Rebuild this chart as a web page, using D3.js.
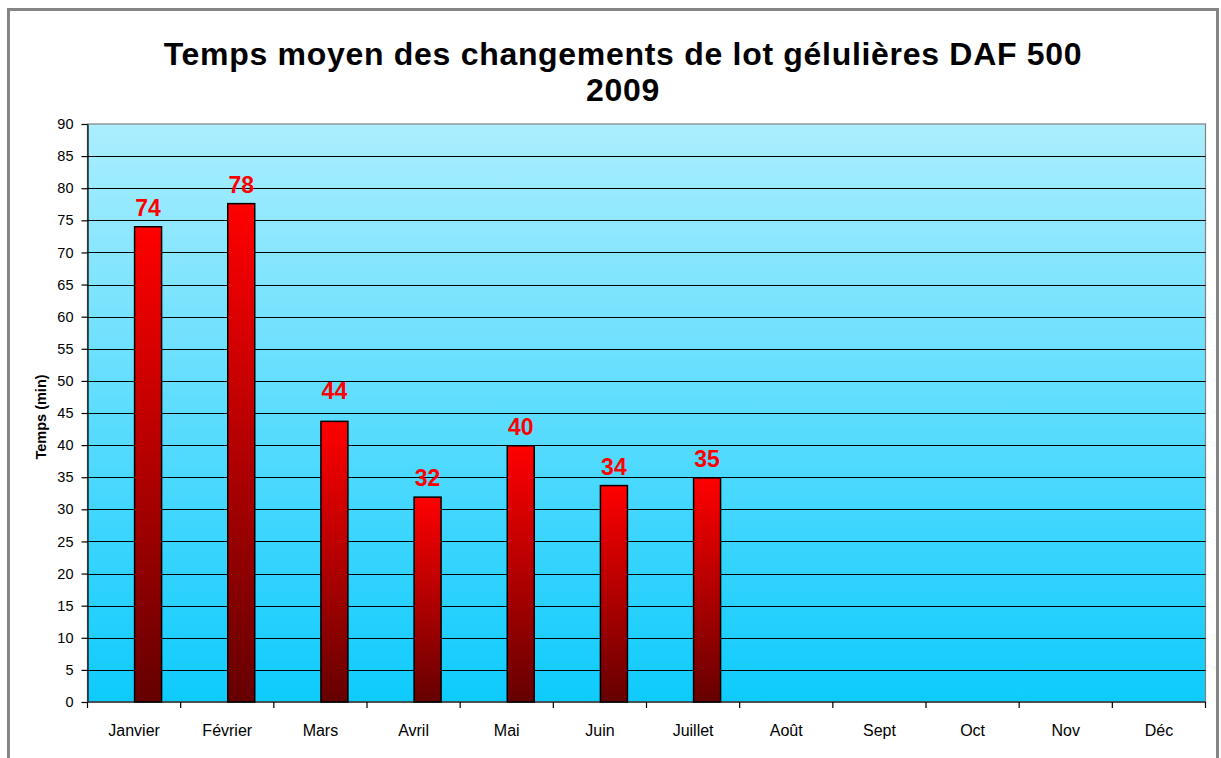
<!DOCTYPE html>
<html>
<head>
<meta charset="utf-8">
<script src="https://cdn.jsdelivr.net/npm/d3@7"></script>
<style>
  html, body { margin: 0; padding: 0; background: #fff; }
  svg { display: block; font-family: Arial, "Liberation Sans", sans-serif; }
</style>
</head>
<body>
<svg id="chart" width="1221" height="758"></svg>
<script>
// Monthly average changeover time (minutes) for the DAF 500 capsule fillers, 2009
const months = ["Janvier", "Février", "Mars", "Avril", "Mai", "Juin", "Juillet", "Août", "Sept", "Oct", "Nov", "Déc"];
const minutes = [74, 77.6, 43.7, 31.9, 39.9, 33.7, 34.9, null, null, null, null, null];
const yTicks = d3.range(0, 91, 5);
const titleLines = ["Temps moyen des changements de lot gélulières DAF 500", "2009"];
const yLabel = "Temps (min)";

const svg = d3.select("#chart");
const plot = { left: 87.5, right: 1205.5, top: 124, bottom: 702 };

// outer frame
svg.append("rect")
  .attr("x", 8.5).attr("y", 9.5)
  .attr("width", 1209).attr("height", 800)
  .attr("fill", "#fff").attr("stroke", "#858585").attr("stroke-width", 3);

const defs = svg.append("defs");
const bg = defs.append("linearGradient").attr("id", "bgGrad")
  .attr("x1", 0).attr("y1", 0).attr("x2", 0).attr("y2", 1);
bg.append("stop").attr("offset", 0).attr("stop-color", "#abeefe");
bg.append("stop").attr("offset", 1).attr("stop-color", "#0ecbfd");

const barGrad = defs.append("linearGradient").attr("id", "barGrad")
  .attr("x1", 0).attr("y1", 0).attr("x2", 0).attr("y2", 1);
barGrad.append("stop").attr("offset", 0).attr("stop-color", "#ff0000");
barGrad.append("stop").attr("offset", 1).attr("stop-color", "#650000");

const x = d3.scaleBand().domain(months).range([plot.left, plot.right]).padding(0);
const y = d3.scaleLinear().domain([0, 90]).range([plot.bottom, plot.top]);

// plot background
svg.append("rect")
  .attr("x", plot.left).attr("y", plot.top)
  .attr("width", plot.right - plot.left).attr("height", plot.bottom - plot.top)
  .attr("fill", "url(#bgGrad)").attr("stroke", "#808080").attr("stroke-width", 1.2);

// horizontal gridlines
svg.append("g").selectAll("line")
  .data(yTicks.filter(d => d > 0 && d < 90))
  .join("line")
  .attr("x1", plot.left).attr("x2", plot.right)
  .attr("y1", d => Math.round(y(d)) + 0.5).attr("y2", d => Math.round(y(d)) + 0.5)
  .attr("stroke", "#000").attr("stroke-width", 1.2);

// y axis
const yAxis = svg.append("g")
  .attr("transform", `translate(${plot.left},0)`)
  .call(d3.axisLeft(y).tickValues(yTicks).tickSize(6).tickPadding(8).tickSizeOuter(0));
yAxis.select(".domain").attr("stroke", "#000").attr("stroke-width", 1.2);
yAxis.selectAll(".tick line").attr("stroke", "#000").attr("stroke-width", 1.2);
yAxis.selectAll("text").attr("font-size", "14.5px").attr("fill", "#000")
  .attr("font-family", "Arial, 'Liberation Sans', sans-serif");

// x axis: ticks sit on category boundaries
const xAxisG = svg.append("g").attr("transform", `translate(0,${plot.bottom})`);
xAxisG.append("line")
  .attr("x1", plot.left).attr("x2", plot.right)
  .attr("y1", 0).attr("y2", 0)
  .attr("stroke", "#333").attr("stroke-width", 1.4);
const bounds = months.map(m => x(m)).concat([x(months[months.length - 1]) + x.bandwidth()]);
xAxisG.selectAll("line.tk").data(bounds).join("line").attr("class", "tk")
  .attr("x1", d => d).attr("x2", d => d).attr("y1", 0).attr("y2", 6)
  .attr("stroke", "#000").attr("stroke-width", 1.2);
xAxisG.selectAll("text").data(months).join("text")
  .attr("x", d => x(d) + x.bandwidth() / 2)
  .attr("y", 34)
  .attr("text-anchor", "middle")
  .attr("font-size", "16px")
  .attr("fill", "#000")
  .text(d => d);

// bars occupy the right half-slot of each category
const barW = 27;
const data = months.map((m, i) => ({ month: m, value: minutes[i] })).filter(d => d.value != null);
const barX = d => x(d.month) + x.bandwidth() / 2 + 0.5;

svg.append("g").selectAll("rect")
  .data(data).join("rect")
  .attr("x", barX)
  .attr("y", d => y(d.value))
  .attr("width", barW)
  .attr("height", d => y(0) - y(d.value))
  .attr("fill", "url(#barGrad)")
  .attr("stroke", "#000").attr("stroke-width", 1.5);

// value labels (the Mars label sits a little higher, clear of the 45 gridline)
const fmt = d3.format(".0f");
const labelGap = d => (d.month === "Mars" ? 22 : 11);
svg.append("g").selectAll("text")
  .data(data).join("text")
  .attr("x", d => barX(d) + barW / 2)
  .attr("y", d => y(d.value) - labelGap(d))
  .attr("text-anchor", "middle")
  .attr("font-size", "23px")
  .attr("font-weight", "bold")
  .attr("fill", "#ff0000")
  .text(d => fmt(d.value));

// y label
svg.append("text")
  .attr("transform", `translate(46,${(plot.top + plot.bottom) / 2 + 4}) rotate(-90)`)
  .attr("text-anchor", "middle")
  .attr("font-size", "14.5px")
  .attr("font-weight", "bold")
  .attr("fill", "#000")
  .text(yLabel);

// two-line title
svg.append("g").selectAll("text")
  .data(titleLines).join("text")
  .attr("x", 623)
  .attr("y", (d, i) => 65 + i * 36)
  .attr("text-anchor", "middle")
  .attr("font-size", "32px")
  .attr("letter-spacing", "0.7px")
  .attr("font-weight", "bold")
  .attr("fill", "#000")
  .text(d => d);
</script>
</body>
</html>
